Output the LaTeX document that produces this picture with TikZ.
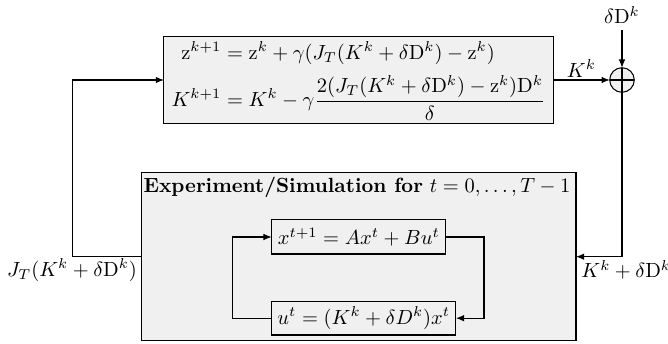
\documentclass[tikz,border=0pt]{standalone}
\usepackage{amsmath}
\usetikzlibrary{arrows.meta}
\definecolor{boxgray}{HTML}{F0F0F0}
\begin{document}
\begin{tikzpicture}[x=0.4878pt,y=-0.4878pt,
  blockbox/.style={draw,fill=boxgray,line width=0.5pt,inner sep=0pt,outer sep=0pt},
  innerbox/.style={draw,line width=0.5pt,inner sep=0pt,outer sep=0pt},
  conn/.style={line width=0.5pt},
  arr/.style={conn,-{Latex[length=4pt,width=3.2pt]}},
  lbl/.style={inner sep=0pt}]
\useasboundingbox (0,0) rectangle (668,344);
% top update box
\node[blockbox,minimum width=189.8pt,minimum height=42.9pt] (upd) at (358.5,80) {};
\node[lbl] (eqs) at (358.5,81) {$\begin{aligned}
 \mathrm{z}^{k+1} &= \mathrm{z}^k+\gamma(J_T(K^k+\delta\mathrm{D}^k)-\mathrm{z}^k)\\
 K^{k+1} &= K^k-\gamma\frac{2(J_T(K^k+\delta\mathrm{D}^k)-\mathrm{z}^k)\mathrm{D}^k}{\delta}
\end{aligned}$};
% sum junction
\node[draw,circle,fill=boxgray,line width=0.5pt,minimum size=12pt,inner sep=0pt,outer sep=0pt] (sum) at (622,80) {};
\draw[conn] (sum.north) -- (sum.south) (sum.west) -- (sum.east);
\node[lbl] (dD) at (622,15) {$\delta\mathrm{D}^k$};
% experiment box
\node[blockbox,minimum width=212pt,minimum height=82pt] (exp) at (358.7,256.7) {};
\node[lbl] (title) at (357,187) {\textbf{Experiment/Simulation for} $t=0,\dots,T-1$};
\node[innerbox,minimum width=85pt,minimum height=16.6pt] (sys) at (358.8,237) {};
\node[lbl] at (sys) {$x^{t+1}=Ax^t+Bu^t$};
\node[innerbox,minimum width=89.9pt,minimum height=16.4pt] (ctl) at (363.8,318.2) {};
\node[lbl] at (ctl) {$u^t=(K^k+\delta D^k)x^t$};
% labels
\node[lbl] (Jlbl) at (72,270) {$J_T(K^k+\delta\mathrm{D}^k)$};
\node[lbl,anchor=west] (Klbl) at (581,270) {$K^k+\delta\mathrm{D}^k$};
\coordinate (lc) at (72.7,256.7);
\coordinate (lt) at (72.7,80);
\coordinate (ir) at (484,237);
\coordinate (il) at (232.7,318.2);
% connectors
\draw[arr] (dD.south) ++(0,-3pt) -- (sum.north);
\draw[arr] (upd.east) -- node[above=1pt,lbl] {$K^k$} (sum.west);
\draw[arr] (sum.south) |- (exp.east);
\draw[arr] (exp.west) -- (lc) -- (lt) -- (upd.west);
\draw[arr] (sys.east) -| (ir) |- (ctl.east);
\draw[arr] (ctl.west) -| (il) |- (sys.west);
\end{tikzpicture}
\end{document}
